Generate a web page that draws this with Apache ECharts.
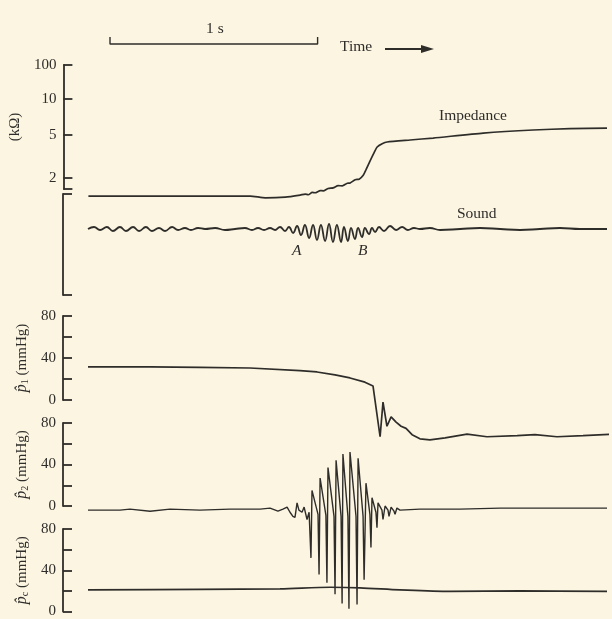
<!DOCTYPE html>
<html><head><meta charset="utf-8">
<script src="https://cdn.jsdelivr.net/npm/echarts@6/dist/echarts.min.js"></script>
<style>html,body{margin:0;padding:0;background:#fbf5e2;}#c{width:612px;height:619px;}</style>
</head><body><div id="c"></div>
<script>
// ---- data (time in seconds) ----
const timeRange = [0, 2.5];
const scaleBarStart = 0.106;   // start of the "1 s" bar
const scaleBarLength = 1;      // seconds
const impTickValues = [2, 5, 10, 100];          // kΩ tick labels
const impTickUnits = [0, 1, 1.84, 2.63];        // nonlinear recorder scale units for those ticks
const impBreakUnit = -0.256;                    // axis break at bottom of impedance scale
const impedance = [[0,1.36],[0.780,1.36],[0.853,1.31],[0.949,1.33],[1.021,1.39],[1.045,1.42],[1.060,1.40],[1.079,1.47],[1.093,1.46],[1.118,1.53],[1.132,1.52],[1.156,1.60],[1.180,1.62],[1.204,1.70],[1.224,1.69],[1.248,1.79],[1.262,1.80],[1.286,1.93],[1.305,1.95],[1.325,2.12],[1.339,2.40],[1.358,2.88],[1.378,3.45],[1.392,3.87],[1.416,4.15],[1.440,4.31],[1.551,4.50],[1.662,4.69],[1.903,5.19],[2.144,5.51],[2.322,5.65],[2.500,5.72]];
const soundRange = [-66, 35];
const sound = [[0,0],[0.029,2],[0.058,-1],[0.091,2],[0.120,-2],[0.154,2],[0.183,-2],[0.217,2],[0.246,-2],[0.279,2],[0.308,-2],[0.342,1],[0.371,-2],[0.405,2],[0.434,-1],[0.467,1],[0.496,-1],[0.530,1],[0.564,0],[0.612,1],[0.660,-1],[0.708,0],[0.756,1],[0.790,-1],[0.819,1],[0.848,-1],[0.877,1],[0.901,-1],[0.925,2],[0.949,-2],[0.968,2],[0.988,-4],[1.007,3],[1.026,-6],[1.045,4],[1.065,-9],[1.084,4],[1.103,-11],[1.122,4],[1.142,-12],[1.161,5],[1.180,-13],[1.199,4],[1.219,-13],[1.233,2],[1.252,-12],[1.267,1],[1.286,-10],[1.301,1],[1.320,-8],[1.334,1],[1.354,-5],[1.368,1],[1.383,-3],[1.402,2],[1.426,-2],[1.455,3],[1.484,-1],[1.513,2],[1.541,-1],[1.570,1],[1.599,0],[1.647,1],[1.696,-1],[1.792,0],[1.888,1],[1.985,0],[2.081,-1],[2.177,0],[2.273,1],[2.370,0],[2.500,0]];
const p1 = [[0,31.5],[0.299,31.5],[0.539,31],[0.780,30.5],[1.021,28],[1.103,26.7],[1.190,24],[1.262,21],[1.334,17],[1.373,13.3],[1.407,-35],[1.421,-2],[1.440,-25],[1.460,-16],[1.484,-21],[1.508,-25],[1.532,-27],[1.561,-33],[1.599,-37],[1.647,-38],[1.720,-36],[1.826,-32.5],[1.922,-35],[2.067,-34],[2.153,-33],[2.259,-35],[2.384,-34],[2.525,-32.5]];
const p2 = [[0,-4],[0.154,-4],[0.202,-3],[0.299,-5],[0.395,-3],[0.539,-4],[0.684,-3],[0.829,-3],[0.877,-2],[0.915,-5],[0.939,-3],[0.959,-1],[0.973,-6],[0.987,-10],[0.997,-11],[1.007,3],[1.016,-4],[1.031,-6],[1.041,-1],[1.055,-13],[1.065,-6],[1.074,-50],[1.079,15],[1.108,-8],[1.113,-66],[1.118,27],[1.146,-9],[1.151,-74],[1.156,37],[1.185,-10],[1.190,-85],[1.195,44],[1.219,-10],[1.224,-94],[1.228,50],[1.252,-10],[1.257,-99],[1.262,52],[1.291,-10],[1.296,-95],[1.301,46],[1.325,-10],[1.330,-71],[1.339,22],[1.358,-8],[1.363,-40],[1.368,8],[1.387,-6],[1.392,-21],[1.397,3],[1.416,-4],[1.421,-13],[1.431,0],[1.445,-4],[1.450,-10],[1.460,-1],[1.474,-5],[1.479,-8],[1.488,-2],[1.503,-4],[1.599,-3],[1.792,-3],[1.985,-2],[2.177,-2],[2.370,-2],[2.500,-2]];
const pc = [[0,21],[0.539,21.5],[0.925,22],[1.166,23.5],[1.310,23],[1.503,21],[1.744,19.5],[2.081,20],[2.500,19.5]];
const pRange = [0, 80];
const pTickStep = 20;
const pLabelValues = [0, 40, 80];

// ---- style ----
const ink = '#2f2d2a';
const serif = 'Liberation Serif';
const tickFont = 15;

function impToUnit(v) {
  const L = impTickValues.map(Math.log10);
  const lv = Math.log10(v);
  let i = 0;
  while (i < L.length - 2 && lv > L[i + 1]) i++;
  return impTickUnits[i] + (lv - L[i]) / (L[i + 1] - L[i]) * (impTickUnits[i + 1] - impTickUnits[i]);
}

const gridBox = [
  {top: 37, height: 7},    // scale bar
  {top: 65, height: 124},  // impedance
  {top: 194, height: 101}, // sound
  {top: 316, height: 84},  // p1
  {top: 423, height: 83},  // p2
  {top: 529, height: 83}   // pc
];
const grids = gridBox.map(g => ({left: 88, right: 5, top: g.top, height: g.height}));
const xAxes = gridBox.map((g, i) => ({type: 'value', gridIndex: i, min: timeRange[0], max: timeRange[1], show: false}));

const tickStyle = {color: ink, width: 1.8};
const baseY = (i) => ({
  type: 'value', gridIndex: i, offset: 25,
  axisLine: {show: true, onZero: false, lineStyle: {color: ink, width: 1.8}},
  axisTick: {show: true, inside: true, length: 9, lineStyle: tickStyle},
  axisLabel: {color: ink, fontFamily: serif, fontSize: tickFont, margin: 7},
  splitLine: {show: false},
  nameLocation: 'middle', nameRotate: 90, nameGap: 32,
  nameTextStyle: {color: ink, fontFamily: serif, fontSize: 15,
    rich: {i: {fontFamily: serif, fontStyle: 'italic', fontSize: 16, color: ink},
           s: {fontFamily: serif, fontSize: 10, color: ink, verticalAlign: 'bottom', padding: [7, 0, 0, 0]},
           t: {fontFamily: serif, fontSize: 15, color: ink}}}
});

const yAxes = [
  {type: 'value', gridIndex: 0, min: 0, max: 1, show: false},
  Object.assign(baseY(1), {
    min: impBreakUnit, max: impTickUnits[impTickUnits.length - 1],
    name: '(kΩ)', nameGap: 33,
    axisTick: {show: true, inside: true, length: 9, lineStyle: tickStyle, customValues: [impBreakUnit].concat(impTickUnits)},
    axisLabel: {color: ink, fontFamily: serif, fontSize: tickFont, margin: 7, customValues: impTickUnits,
      formatter: v => { const k = impTickUnits.findIndex(u => Math.abs(u - v) < 1e-6); return k >= 0 ? String(impTickValues[k]) : ''; }}
  }),
  Object.assign(baseY(2), {
    min: soundRange[0], max: soundRange[1],
    axisTick: {show: true, inside: true, length: 9, lineStyle: tickStyle, customValues: soundRange},
    axisLabel: {show: false}
  }),
  Object.assign(baseY(3), {min: pRange[0], max: pRange[1], interval: pTickStep, name: '{i|p\u0302}{s|1}{t| (mmHg)}'}),
  Object.assign(baseY(4), {min: pRange[0], max: pRange[1], interval: pTickStep, name: '{i|p\u0302}{s|2}{t| (mmHg)}'}),
  Object.assign(baseY(5), {min: pRange[0], max: pRange[1], interval: pTickStep, name: '{i|p\u0302}{s|c}{t| (mmHg)}'})
];
[3, 4, 5].forEach(i => {
  yAxes[i].axisLabel.formatter = v => pLabelValues.includes(v) ? String(v) : '';
});

const lineSeries = (i, data, smooth, w) => ({
  type: 'line', xAxisIndex: i, yAxisIndex: i, data: data, showSymbol: false,
  clip: false, smooth: smooth || false, silent: true,
  lineStyle: {color: ink, width: w || 1.7}
});

const txt = '15.5px "Liberation Serif"';
const option = {
  backgroundColor: '#fbf5e2',
  animation: false,
  grid: grids, xAxis: xAxes, yAxis: yAxes,
  series: [
    lineSeries(0, [[scaleBarStart, 1], [scaleBarStart, 0], [scaleBarStart + scaleBarLength, 0], [scaleBarStart + scaleBarLength, 1]], false, 1.4),
    lineSeries(1, impedance.map(d => [d[0], impToUnit(d[1])]), 0.2),
    lineSeries(2, sound, 0.45, 1.8),
    lineSeries(3, p1),
    lineSeries(4, p2, false, 1.4),
    lineSeries(5, pc, 0.3)
  ],
  graphic: [
    {type: 'text', left: 206, top: 21, style: {text: '1 s', font: txt, fill: ink}},
    {type: 'text', left: 340, top: 39, style: {text: 'Time', font: txt, fill: ink}},
    {type: 'line', shape: {x1: 385, y1: 49, x2: 424, y2: 49}, style: {stroke: ink, lineWidth: 2}},
    {type: 'polygon', shape: {points: [[421, 45], [434, 49], [421, 53]]}, style: {fill: ink}},
    {type: 'text', left: 439, top: 108, style: {text: 'Impedance', font: txt, fill: ink}},
    {type: 'text', left: 457, top: 206, style: {text: 'Sound', font: txt, fill: ink}},
    {type: 'text', left: 292, top: 243, style: {text: 'A', font: 'italic ' + txt, fill: ink}},
    {type: 'text', left: 358, top: 243, style: {text: 'B', font: 'italic ' + txt, fill: ink}}
  ]
};
const chart = echarts.init(document.getElementById('c'));
chart.setOption(option);
</script></body></html>
